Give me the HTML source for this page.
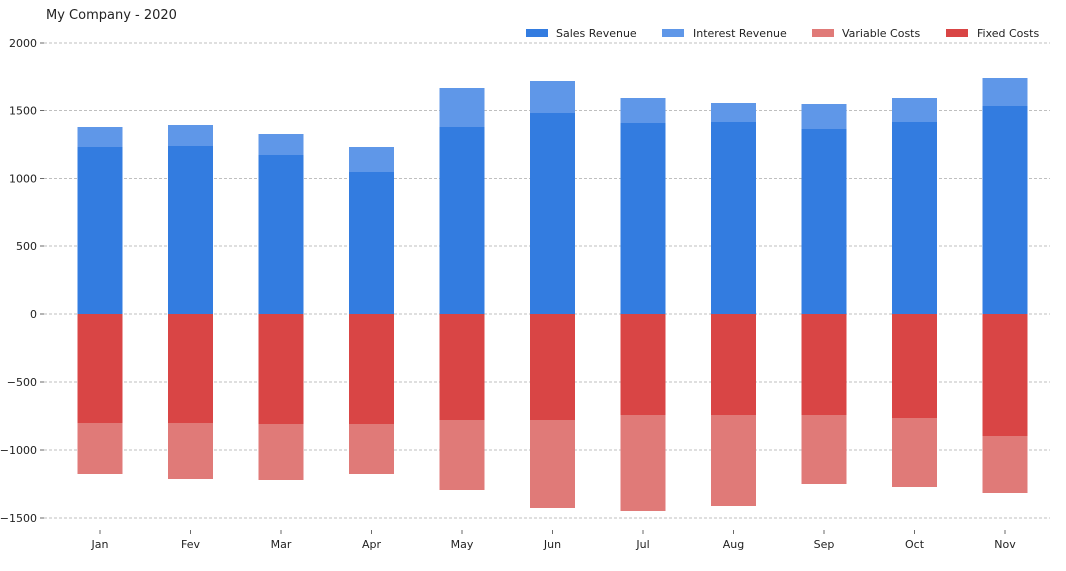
<!DOCTYPE html>
<html><head><meta charset="utf-8"><style>
body{margin:0;background:#fff;width:1066px;height:566px;overflow:hidden}
text{font-family:"DejaVu Sans","Liberation Sans",sans-serif;font-size:11px;fill:#222}
</style></head><body>
<svg id="s" width="1066" height="566" xmlns="http://www.w3.org/2000/svg">
<text x="46" y="19" style="font-size:13px">My Company - 2020</text>
<g id="g"></g>
<rect x="526" y="29" width="22" height="8" fill="#337ce0"/><text x="556" y="37">Sales Revenue</text>
<rect x="662" y="29" width="22" height="8" fill="#5f97e8"/><text x="693" y="37">Interest Revenue</text>
<rect x="812" y="29" width="22" height="8" fill="#e07a78"/><text x="842" y="37">Variable Costs</text>
<rect x="946" y="29" width="22" height="8" fill="#d94545"/><text x="977" y="37">Fixed Costs</text>
</svg>
<script>
const g=document.getElementById('g');let h='';
const ticks=[[2000,43],[1500,110.5],[1000,178.5],[500,246],[0,314],[-500,382],[-1000,450],[-1500,518]];
for(const [v,y] of ticks){
 h+=`<line x1="44" x2="1050" y1="${y}" y2="${y}" stroke="#aaa" stroke-width="0.8" stroke-dasharray="3,2"/>`;
 h+=`<line x1="40" x2="44" y1="${y}" y2="${y}" stroke="#444" stroke-width="0.8"/>`;
 h+=`<text x="37" y="${y+4}" text-anchor="end">${v<0?'\u2212'+(-v):v}</text>`;
}
const m=['Jan','Fev','Mar','Apr','May','Jun','Jul','Aug','Sep','Oct','Nov'];
const d=[[147,127,423,474],[146,125,423,479],[155,134,424,480],[172,147,424,474],[127,88,420,490],[113,81,420,508],[123,98,415,511],[122,103,415,506],[129,104,415,484],[122,98,418,487],[106,78,436,493]];
d.forEach((r,i)=>{const c=100+i*90.5,x=c-22.5;
 h+=`<rect x="${x}" y="${r[1]}" width="45" height="${r[0]-r[1]}" fill="#5f97e8"/>`;
 h+=`<rect x="${x}" y="${r[0]}" width="45" height="${314-r[0]}" fill="#337ce0"/>`;
 h+=`<rect x="${x}" y="314" width="45" height="${r[2]-314}" fill="#d94545"/>`;
 h+=`<rect x="${x}" y="${r[2]}" width="45" height="${r[3]-r[2]}" fill="#e07a78"/>`;
 h+=`<line x1="${c}" x2="${c}" y1="530" y2="534" stroke="#444" stroke-width="0.8"/>`;
 h+=`<text x="${c}" y="548" text-anchor="middle">${m[i]}</text>`;
});
g.innerHTML=h;
</script>
</body></html>
